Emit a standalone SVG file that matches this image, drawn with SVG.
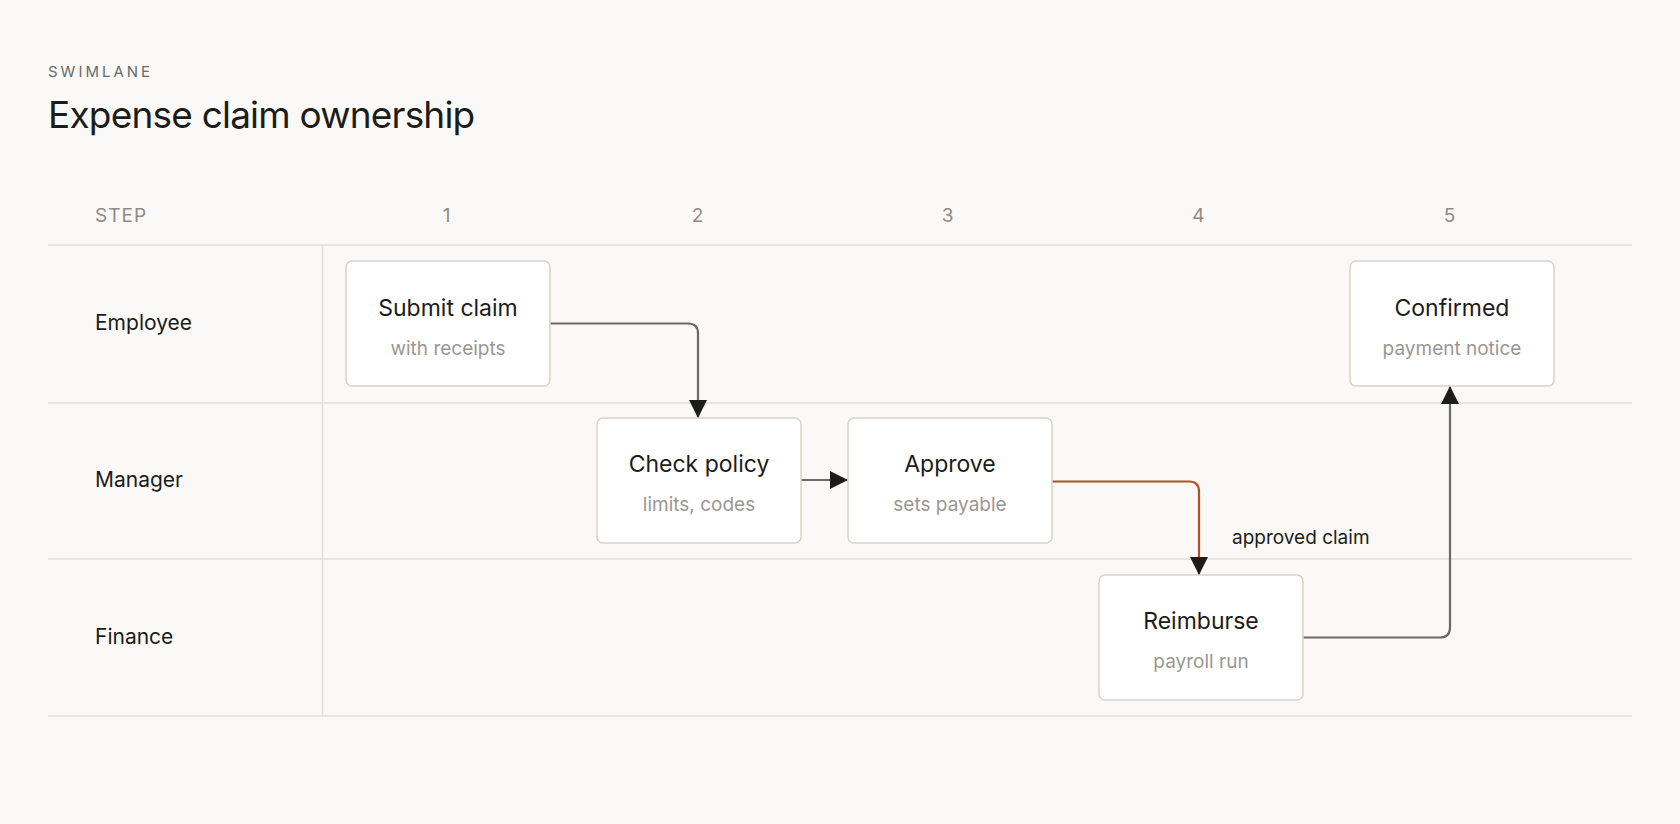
<svg xmlns="http://www.w3.org/2000/svg" width="1680" height="824" viewBox="0 0 1680 824">
<style>
text{font-family:Inter,"Liberation Sans",sans-serif}
.grid{stroke:#e2dfd9;stroke-width:1.5;fill:none}
.box{fill:#fff;stroke:#d8d4cb;stroke-width:1.5}
.t{font-size:23px;fill:#1c1c1a;text-anchor:middle}
.s{font-size:19px;fill:#9a9792;text-anchor:middle}
.lane{font-size:21px;fill:#1c1c1a}
.hd{font-size:19px;fill:#8e8b86;text-anchor:middle;letter-spacing:1px}
.c{fill:none;stroke:#6b6a66;stroke-width:2.2}
.o{fill:none;stroke:#b4501f;stroke-width:2.2}
</style>
<defs>
<marker id="a" viewBox="0 0 10 10" refX="10" refY="5" markerWidth="9" markerHeight="9" markerUnits="userSpaceOnUse" orient="auto"><path d="M0,0L10,5L0,10z" fill="#1c1c1a"/></marker>
<marker id="ab" viewBox="0 0 10 10" refX="10" refY="5" markerWidth="18" markerHeight="18" markerUnits="userSpaceOnUse" orient="auto"><path d="M0,0L10,5L0,10z" fill="#1c1c1a"/></marker>
</defs>
<rect width="1680" height="824" fill="#faf9f7"/>
<text x="48" y="77" font-size="15" fill="#6b6a66" letter-spacing="3">SWIMLANE</text>
<text x="48" y="128" font-size="37" fill="#1c1c1a" letter-spacing="-0.8">Expense claim ownership</text>
<g id="header">
<text x="95" y="222" class="hd" text-anchor="start" style="text-anchor:start">STEP</text>
<text x="447" y="222" class="hd">1</text>
<text x="698" y="222" class="hd">2</text>
<text x="948" y="222" class="hd">3</text>
<text x="1199" y="222" class="hd">4</text>
<text x="1450" y="222" class="hd">5</text>
</g>
<g id="grid">
<path class="grid" d="M48 245H1632M48 403H1632M48 559H1632M48 716H1632M322.5 245V716"/>
<text x="95" y="330" class="lane">Employee</text>
<text x="95" y="487" class="lane">Manager</text>
<text x="95" y="644" class="lane">Finance</text>
</g>
<g id="connectors">
<path class="c" d="M550 323.5H688Q698 323.5 698 333.5V418" marker-end="url(#ab)"/>
<path class="c" d="M801 480H848" marker-end="url(#ab)"/>
<path class="o" d="M1052 481.5H1189Q1199 481.5 1199 491.5V575" marker-end="url(#ab)"/>
<text x="1232" y="544" font-size="19" fill="#1c1c1a">approved claim</text>
<path class="c" d="M1303 637.5H1440Q1450 637.5 1450 627.5V386" marker-end="url(#ab)"/>
</g>
<g id="submit"><rect class="box" x="346" y="261" width="204" height="125" rx="6"/><text class="t" x="448" y="316">Submit claim</text><text class="s" x="448" y="355">with receipts</text></g>
<g id="check"><rect class="box" x="597" y="418" width="204" height="125" rx="6"/><text class="t" x="699" y="472">Check policy</text><text class="s" x="699" y="511">limits, codes</text></g>
<g id="approve"><rect class="box" x="848" y="418" width="204" height="125" rx="6"/><text class="t" x="950" y="472">Approve</text><text class="s" x="950" y="511">sets payable</text></g>
<g id="reimburse"><rect class="box" x="1099" y="575" width="204" height="125" rx="6"/><text class="t" x="1201" y="629">Reimburse</text><text class="s" x="1201" y="668">payroll run</text></g>
<g id="confirmed"><rect class="box" x="1350" y="261" width="204" height="125" rx="6"/><text class="t" x="1452" y="316">Confirmed</text><text class="s" x="1452" y="355">payment notice</text></g>
</svg>
